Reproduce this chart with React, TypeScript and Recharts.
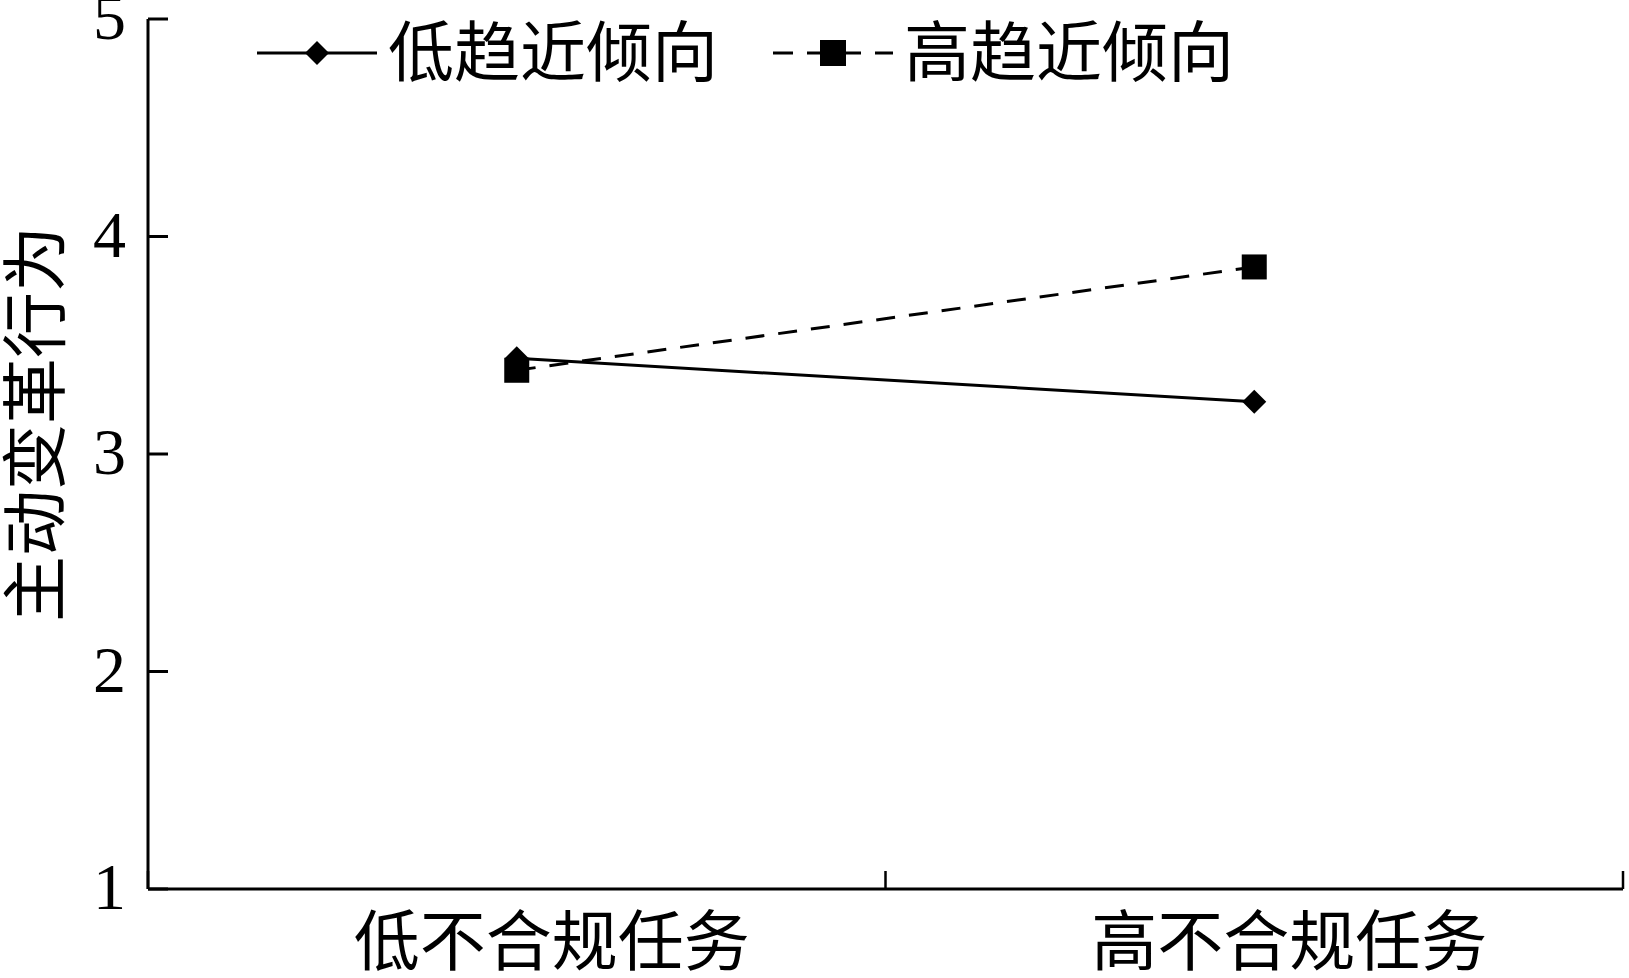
import React from 'react';
import { LineChart, Line, XAxis, YAxis, Legend } from 'recharts';

const categories = ['低不合规任务', '高不合规任务'];
const seriesNames = ['低趋近倾向', '高趋近倾向'];
const lowApproach = [3.44, 3.24];
const highApproach = [3.385, 3.86];
const yTicks = [1, 2, 3, 4, 5];
const xTicks = [0, 0.5, 1, 1.5, 2];

const data = categories.map((name, i) => ({
  name,
  pos: i + 0.5,
  low: lowApproach[i],
  high: highApproach[i],
}));

const FONT = "'Liberation Serif', 'Noto Sans CJK SC', serif";

const Diamond = (props: any) => {
  const { cx, cy, index } = props;
  if (cx == null || cy == null) return null;
  const r = 12;
  return (
    <path
      key={`d-${index}`}
      d={`M${cx},${cy - r} L${cx + r},${cy} L${cx},${cy + r} L${cx - r},${cy} Z`}
      fill="#000"
    />
  );
};

const Square = (props: any) => {
  const { cx, cy, index } = props;
  if (cx == null || cy == null) return null;
  const h = 12.5;
  return <rect key={`s-${index}`} x={cx - h} y={cy - h} width={2 * h} height={2 * h} fill="#000" />;
};

const YTick = (props: any) => {
  const { x, y, payload } = props;
  return (
    <g>
      <line x1={x} y1={y} x2={x + 20} y2={y} stroke="#000" strokeWidth={3} />
      <text x={x - 22} y={y + 20} textAnchor="end" fontFamily={FONT} fontSize={66} fill="#000">
        {payload.value}
      </text>
    </g>
  );
};

const XTick = (props: any) => {
  const { x, y, payload } = props;
  const v = payload.value;
  if (Number.isInteger(v)) {
    return <line x1={x} y1={y} x2={x} y2={y - 18} stroke="#000" strokeWidth={2.5} />;
  }
  return (
    <text x={x + 35} y={y + 76} textAnchor="middle" fontFamily={FONT} fontSize={66} fill="#000">
      {categories[Math.floor(v)]}
    </text>
  );
};

const YLabel = (props: any) => {
  return (
    <text
      transform="translate(59, 424) rotate(-90)"
      textAnchor="middle"
      fontFamily={FONT}
      fontSize={66}
      fill="#000"
    >
      主动变革行为
    </text>
  );
};

const legendStarts = [257, 773];

const renderLegend = (props: any) => {
  const payload = props && props.payload && props.payload.length ? props.payload : seriesNames.map((n) => ({ value: n }));
  return (
    <svg width={1300} height={100} style={{ display: 'block' }}>
      {payload.map((entry: any, i: number) => {
        const sx = legendStarts[i];
        const cy = 53;
        const dashed = i === 1;
        return (
          <g key={`lg-${i}`}>
            <line
              x1={sx}
              y1={cy}
              x2={sx + 120}
              y2={cy}
              stroke="#000"
              strokeWidth={3}
              strokeDasharray={dashed ? '20 14' : undefined}
            />
            {dashed ? (
              <rect x={sx + 60 - 13} y={cy - 13} width={26} height={26} fill="#000" />
            ) : (
              <path
                d={`M${sx + 60},${cy - 12} L${sx + 72},${cy} L${sx + 60},${cy + 12} L${sx + 48},${cy} Z`}
                fill="#000"
              />
            )}
            <text x={sx + 131} y={cy + 23} fontFamily={FONT} fontSize={66} fill="#000">
              {entry.value}
            </text>
          </g>
        );
      })}
    </svg>
  );
};

export default function App() {
  return (
    <div style={{ position: 'absolute', left: 0, top: 0, width: 1629, height: 978, background: '#fff' }}>
      <LineChart width={1629} height={978} data={data} margin={{ top: 19, right: 6, bottom: 0, left: 0 }}>
        <XAxis
          dataKey="pos"
          type="number"
          domain={[0, 2]}
          ticks={xTicks}
          interval={0}
          height={89}
          tickSize={0}
          tickMargin={0}
          tickLine={false}
          axisLine={{ stroke: '#000', strokeWidth: 3 }}
          tick={<XTick />}
        />
        <YAxis
          type="number"
          domain={[1, 5]}
          ticks={yTicks}
          interval={0}
          width={148}
          tickSize={0}
          tickMargin={0}
          tickLine={false}
          axisLine={{ stroke: '#000', strokeWidth: 3 }}
          tick={<YTick />}
          label={<YLabel />}
        />
        <Legend
          layout="vertical"
          align="center"
          verticalAlign="middle"
          content={renderLegend}
          wrapperStyle={{ top: 0, left: 0, width: 1300, height: 100 }}
        />
        <Line
          name={seriesNames[0]}
          dataKey="low"
          stroke="#000"
          strokeWidth={3}
          dot={<Diamond />}
          activeDot={false}
          isAnimationActive={false}
        />
        <Line
          name={seriesNames[1]}
          dataKey="high"
          stroke="#000"
          strokeWidth={3}
          strokeDasharray="19 14"
          dot={<Square />}
          activeDot={false}
          isAnimationActive={false}
        />
      </LineChart>
    </div>
  );
}
